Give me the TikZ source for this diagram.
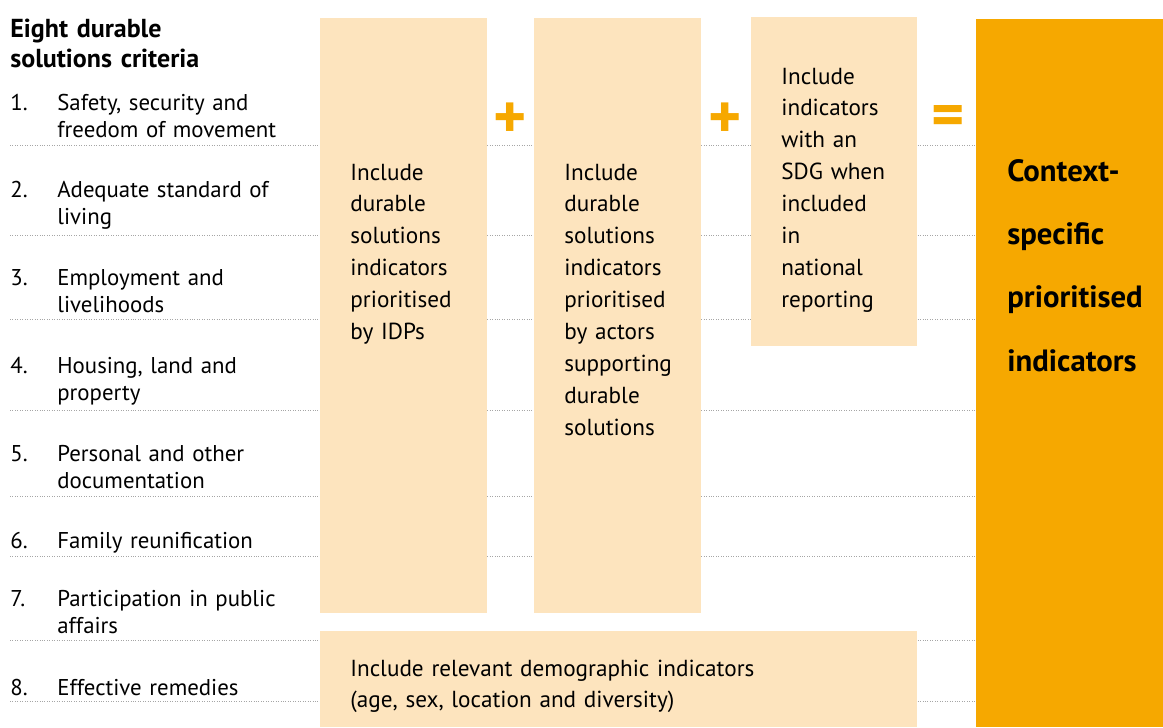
\documentclass[tikz,border=0pt]{standalone}
\usepackage{fontspec}
\setmainfont{PT Sans}
\definecolor{stagefill}{HTML}{FDE4BE}
\definecolor{accent}{HTML}{F6A800}
\newcommand{\stagefont}{\fontsize{13.2}{18.2}\selectfont}
\newcommand{\critfont}{\fontsize{13}{15.9}\selectfont}
\newcommand{\headfont}{\fontsize{14.8}{17.6}\selectfont\bfseries}
\newcommand{\resultfont}{\fontsize{17.5}{36.1}\selectfont\bfseries}
\tikzset{
  stage/.style={fill=stagefill, anchor=north west, inner sep=0pt},
  stagetext/.style={anchor=base west, inner sep=0pt, align=left, text width=3cm, font=\stagefont},
  crit/.style={anchor=base west, inner sep=0pt, align=left, text width=5.2cm, font=\critfont},
  rule/.style={gray!70, densely dotted, line width=0.4pt},
  sign/.style={text=accent, font=\fontsize{36}{36}\selectfont\bfseries, inner sep=0pt}
}
\begin{document}
\begin{tikzpicture}[x=0.02cm, y=-0.02cm]
        \useasboundingbox (0,0) rectangle (1163,727);

        % Separator lines
        \draw[rule] (10,145) -- (976,145);
        \draw[rule] (10,235) -- (976,235);
        \draw[rule] (10,319) -- (976,319);
        \draw[rule] (10,410) -- (976,410);
        \draw[rule] (10,496) -- (976,496);
        \draw[rule] (10,556) -- (976,556);
        \draw[rule] (10,640) -- (976,640);
        \draw[rule] (10,701) -- (976,701);

        % Criteria list
        \node[crit, font=\headfont, text width=6cm] (head) at (10,37) {Eight durable\\solutions criteria};
        \node[crit, text width=1cm] (n1) at (10,110) {1.};
        \node[crit] (c1) at (57,110) {Safety, security and\\freedom of movement};
        \node[crit, text width=1cm] (n2) at (10,197) {2.};
        \node[crit] (c2) at (57,197) {Adequate standard of\\living};
        \node[crit, text width=1cm] (n3) at (10,285) {3.};
        \node[crit] (c3) at (57,285) {Employment and\\livelihoods};
        \node[crit, text width=1cm] (n4) at (10,373) {4.};
        \node[crit] (c4) at (57,373) {Housing, land and\\property};
        \node[crit, text width=1cm] (n5) at (10,461) {5.};
        \node[crit] (c5) at (57,461) {Personal and other\\documentation};
        \node[crit, text width=1cm] (n6) at (10,548) {6.};
        \node[crit] (c6) at (57,548) {Family reunification};
        \node[crit, text width=1cm] (n7) at (10,606) {7.};
        \node[crit] (c7) at (57,606) {Participation in public\\affairs};
        \node[crit, text width=1cm] (n8) at (10,695) {8.};
        \node[crit] (c8) at (57,695) {Effective remedies};

        % Stage boxes
        \node[stage, minimum width=3.34cm, minimum height=11.9cm] (idpbox) at (320,18) {};
        \node[stage, minimum width=3.34cm, minimum height=11.9cm] (actorbox) at (534,18) {};
        \node[stage, minimum width=3.32cm, minimum height=6.58cm] (sdgbox) at (751,17) {};
        \node[stage, minimum width=11.94cm, minimum height=1.92cm] (demobox) at (320,631) {};
        \node[stage, fill=accent, minimum width=3.74cm, minimum height=14.16cm] (resultbox) at (976,19) {};

        % Stage texts
        \node[stagetext] (idp) at (350,180) {Include\\durable\\solutions\\indicators\\prioritised\\by IDPs};
        \node[stagetext] (actor) at (564,180) {Include\\durable\\solutions\\indicators\\prioritised\\by actors\\supporting\\durable\\solutions};
        \node[stagetext] (sdg) at (781,84) {Include\\indicators\\with an\\SDG when\\included\\in\\national\\reporting};
        \node[stagetext, text width=11cm] (demo) at (350,676) {Include relevant demographic indicators\\(age, sex, location and diversity)};
        \node[stagetext, font=\resultfont] (result) at (1007,181) {Context-\\specific\\prioritised\\indicators};

        % Signs
        \node[sign] (plusa) at (510,121) {+};
        \node[sign] (plusb) at (725,121) {+};
        \node[sign] (equals) at (948,121) {=};

\end{tikzpicture}
\end{document}
